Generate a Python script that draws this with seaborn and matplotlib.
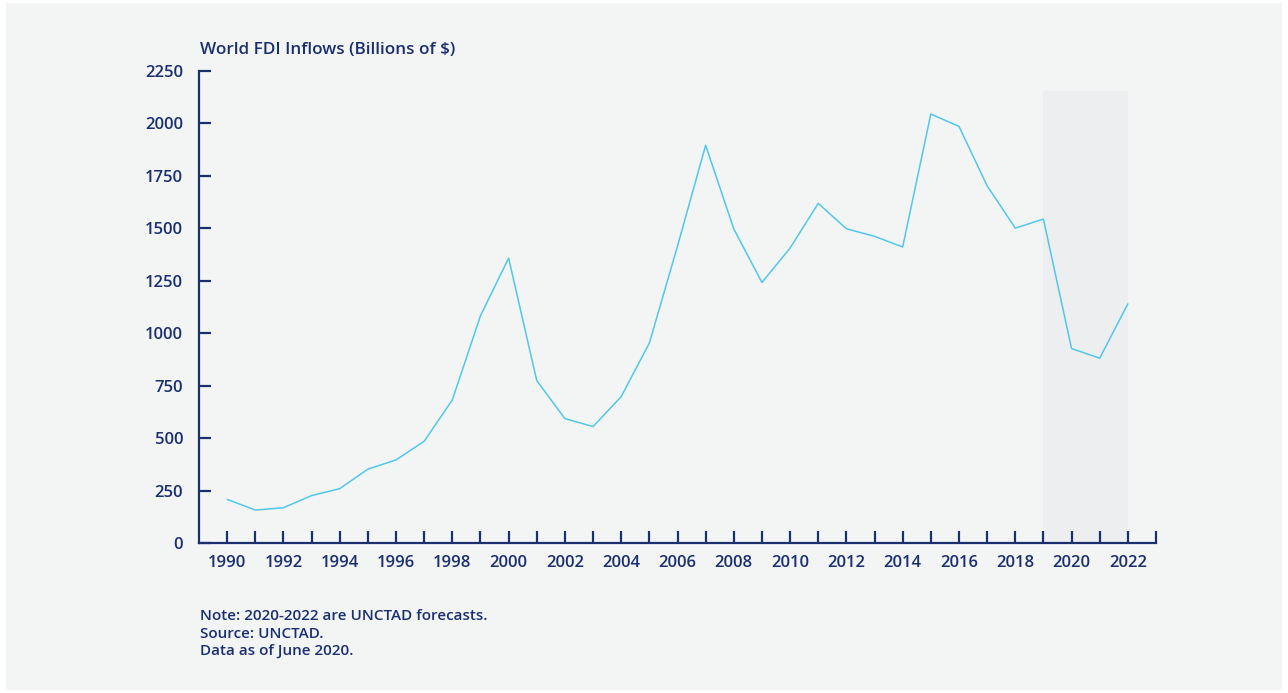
import matplotlib
matplotlib.use("Agg")
import matplotlib.pyplot as plt
import seaborn as sns
import pandas as pd
from matplotlib.patches import Rectangle

years = list(range(1990, 2023))
fdi_inflows = [208, 157, 168, 226, 259, 352, 396, 485, 682, 1083,
               1358, 774, 593, 555, 698, 953, 1415, 1896, 1497, 1242,
               1406, 1619, 1498, 1462, 1411, 2045, 1986, 1703, 1501, 1544,
               927, 881, 1140]
forecast_span = [2019, 2022]
forecast_top = 2156
y_ticks = [0, 250, 500, 750, 1000, 1250, 1500, 1750, 2000, 2250]
x_tick_years = list(range(1990, 2024))
title = "World FDI Inflows (Billions of $)"
notes = ["Note: 2020-2022 are UNCTAD forecasts.", "Source: UNCTAD.", "Data as of June 2020."]

NAVY = "#1b2f6e"
LINE = "#52c7e8"
BG = "#f3f5f5"
SHADE = "#edeef0"

sns.set_style("white")
plt.rcParams['font.family'] = ['Open Sans', 'DejaVu Sans']

df = pd.DataFrame({"year": years, "value": fdi_inflows})

fig = plt.figure(figsize=(12.88, 6.93), dpi=100, facecolor="white")
fig.patches.append(Rectangle((6 / 1288, 3 / 693), 1276 / 1288, 687 / 693,
                             transform=fig.transFigure, facecolor=BG,
                             edgecolor="none", zorder=-10))
ax = fig.add_axes([199 / 1288, 1 - 543 / 693, 957 / 1288, 472 / 693])
ax.set_facecolor("none")

ax.axvspan(forecast_span[0], forecast_span[1], ymin=0, ymax=forecast_top / 2250,
           color=SHADE, lw=0, zorder=0)
sns.lineplot(data=df, x="year", y="value", ax=ax, color=LINE, lw=1.1, zorder=2)

ax.set_xlim(1989, 2023)
ax.set_ylim(0, 2250)
ax.set_xticks(x_tick_years)
ax.set_xticklabels([str(y) if (y % 2 == 0 and y <= 2022) else "" for y in x_tick_years])
ax.set_yticks(y_ticks)
ax.set_yticklabels([str(v) for v in y_ticks])
ax.set_xlabel("")
ax.set_ylabel("")

for side in ["top", "right"]:
    ax.spines[side].set_visible(False)
for side in ["left", "bottom"]:
    ax.spines[side].set_color(NAVY)
    ax.spines[side].set_linewidth(1.6)
    ax.spines[side].set_zorder(3)

ax.tick_params(axis="both", which="major", bottom=True, left=True, direction="in",
               length=8.6, width=1.6, color=NAVY, labelcolor=NAVY, labelsize=12)
ax.tick_params(axis="y", pad=11.5)
ax.tick_params(axis="x", pad=8.5)
for lab in ax.get_xticklabels() + ax.get_yticklabels():
    lab.set_fontweight("semibold")

fig.text(200 / 1288, 1 - 50 / 693, title, color=NAVY, fontsize=12.3,
         fontweight="semibold", ha="left", va="center")
for i, line in enumerate(notes):
    fig.text(200 / 1288, 1 - (616 + i * 17.5) / 693, line, color=NAVY,
             fontsize=11, fontweight="semibold", ha="left", va="center")

fig.savefig("out.png", dpi=100, facecolor=fig.get_facecolor())
